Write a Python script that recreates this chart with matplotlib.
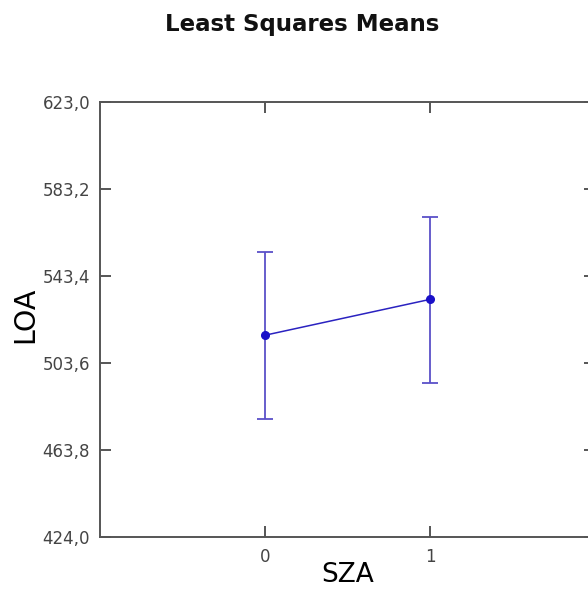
import matplotlib
matplotlib.use("Agg")
import matplotlib.pyplot as plt
from matplotlib.ticker import FixedLocator, FuncFormatter

plt.rcParams["font.family"] = ["DejaVu Sans"]

# least squares means of LOA per SZA level, with interval bounds
levels = [0, 1]
means = [516.3, 532.7]
lower = [478.1, 494.6]
upper = [554.2, 570.2]

y_ticks = [424.0, 463.8, 503.6, 543.4, 583.2, 623.0]

fig = plt.figure(figsize=(5.88, 5.91), dpi=100)
ax = fig.add_axes([0.170, 0.0914, 0.842, 0.736])

err = [[m - lo for m, lo in zip(means, lower)],
       [hi - m for m, hi in zip(means, upper)]]
ax.errorbar(levels, means, yerr=err, fmt="none", ecolor="#5a50c8",
            elinewidth=1.3, capsize=6, capthick=1.3, zorder=2)
ax.plot(levels, means, color="#2a22c0", lw=1.1, marker="o", ms=5.5,
        mfc="#1a10c8", mec="#1a10c8", zorder=3)

ax.set_xlim(-1, 2)
ax.set_ylim(y_ticks[0], y_ticks[-1])
ax.xaxis.set_major_locator(FixedLocator(levels))
ax.yaxis.set_major_locator(FixedLocator(y_ticks))
ax.yaxis.set_major_formatter(FuncFormatter(lambda v, _: f"{v:.1f}".replace(".", ",")))

ax.tick_params(axis="both", direction="in", length=8, width=1.4, color="#555555",
               labelcolor="#444444", labelsize=12, top=True, right=True)
ax.tick_params(axis="y", pad=7)
ax.tick_params(axis="x", pad=8)
for s in ax.spines.values():
    s.set_color("#555555")
    s.set_linewidth(1.4)

ax.set_xlabel("SZA", fontsize=19, va="center")
ax.xaxis.set_label_coords(0.5, -0.0874)
ax.set_ylabel("LOA", fontsize=20.5, va="center")
ax.yaxis.set_label_coords(-0.150, 0.510)
fig.text(0.514, 0.958, "Least Squares Means", ha="center", va="center",
         fontsize=16.5, fontweight="bold", color="#111111")

fig.savefig("out.png", dpi=100)
